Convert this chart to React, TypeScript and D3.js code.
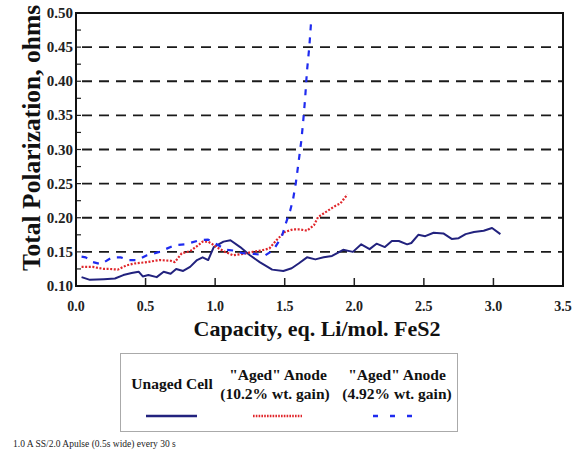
import { useEffect, useRef } from 'react'
import * as d3 from 'd3'

// Unaged cell (solid navy)
const unagedX = [0.04, 0.1, 0.2, 0.28, 0.34, 0.4, 0.45, 0.48, 0.52, 0.58, 0.63, 0.68, 0.72, 0.77, 0.82, 0.87, 0.91, 0.95, 0.99, 1.06, 1.11, 1.18, 1.25, 1.32, 1.41, 1.49, 1.55, 1.6, 1.66, 1.72, 1.78, 1.84, 1.92, 1.99, 2.05, 2.11, 2.16, 2.22, 2.27, 2.32, 2.38, 2.41, 2.46, 2.51, 2.57, 2.64, 2.7, 2.75, 2.8, 2.86, 2.93, 2.99, 3.05]
const unagedY = [0.113, 0.109, 0.11, 0.111, 0.116, 0.119, 0.121, 0.114, 0.116, 0.113, 0.121, 0.118, 0.125, 0.122, 0.128, 0.138, 0.142, 0.138, 0.157, 0.165, 0.167, 0.157, 0.145, 0.135, 0.124, 0.122, 0.126, 0.133, 0.142, 0.139, 0.142, 0.144, 0.153, 0.15, 0.161, 0.154, 0.162, 0.157, 0.166, 0.166, 0.161, 0.163, 0.175, 0.173, 0.178, 0.177, 0.169, 0.17, 0.176, 0.179, 0.181, 0.185, 0.176]

// "Aged" anode, 10.2% wt. gain (red dotted)
const aged10X = [0.04, 0.12, 0.2, 0.24, 0.3, 0.36, 0.42, 0.51, 0.6, 0.68, 0.71, 0.76, 0.82, 0.88, 0.91, 0.95, 0.99, 1.01, 1.07, 1.13, 1.2, 1.27, 1.33, 1.39, 1.44, 1.5, 1.56, 1.61, 1.66, 1.71, 1.74, 1.8, 1.86, 1.9, 1.95]
const aged10Y = [0.128, 0.128, 0.125, 0.125, 0.124, 0.13, 0.133, 0.135, 0.138, 0.137, 0.135, 0.148, 0.151, 0.16, 0.165, 0.165, 0.16, 0.157, 0.15, 0.145, 0.147, 0.15, 0.152, 0.155, 0.167, 0.179, 0.183, 0.183, 0.181, 0.189, 0.201, 0.209, 0.217, 0.221, 0.234]

// "Aged" anode, 4.92% wt. gain (blue dashed)
const aged4X = [0.04, 0.07, 0.12, 0.18, 0.26, 0.32, 0.38, 0.44, 0.51, 0.6, 0.71, 0.78, 0.89, 0.95, 1.02, 1.08, 1.13, 1.2, 1.28, 1.36, 1.42, 1.48, 1.51, 1.54, 1.56, 1.58, 1.605, 1.62, 1.634, 1.646, 1.66, 1.677, 1.69]
const aged4Y = [0.143, 0.142, 0.135, 0.132, 0.142, 0.142, 0.138, 0.138, 0.145, 0.15, 0.16, 0.161, 0.167, 0.168, 0.16, 0.153, 0.152, 0.148, 0.147, 0.145, 0.153, 0.173, 0.193, 0.211, 0.227, 0.251, 0.29, 0.314, 0.344, 0.373, 0.415, 0.451, 0.488]

const xTicks = [0, 0.5, 1, 1.5, 2, 2.5, 3, 3.5]
const yTicks = [0.1, 0.15, 0.2, 0.25, 0.3, 0.35, 0.4, 0.45, 0.5]
const gridValues = [0.15, 0.2, 0.25, 0.3, 0.35, 0.4, 0.45]

const serif = '"Liberation Serif", "Times New Roman", serif'

export default function App() {
  const svgRef = useRef<SVGSVGElement>(null)

  useEffect(() => {
    if (!svgRef.current) return
    const svg = d3.select(svgRef.current)
    svg.selectAll('*').remove()

    const left = 76
    const right = 563
    const top = 13
    const bottom = 286

    const x = d3.scaleLinear().domain([0, 3.5]).range([left, right])
    const y = d3.scaleLinear().domain([0.1, 0.5]).range([bottom, top])

    svg.append('rect').attr('width', 580).attr('height', 452).attr('fill', '#fff')

    // dashed grid
    svg
      .append('g')
      .selectAll('line')
      .data(gridValues)
      .join('line')
      .attr('x1', left + 6)
      .attr('x2', right)
      .attr('y1', d => y(d))
      .attr('y2', d => y(d))
      .attr('stroke', '#1a1a1a')
      .attr('stroke-width', 1.8)
      .attr('stroke-dasharray', '10,7')

    // minor y ticks (inside)
    svg
      .append('g')
      .selectAll('line')
      .data(d3.range(0.1, 0.5001, 0.025))
      .join('line')
      .attr('x1', left)
      .attr('x2', left + 5)
      .attr('y1', d => y(d))
      .attr('y2', d => y(d))
      .attr('stroke', '#222')
      .attr('stroke-width', 1.2)

    // x ticks (inside)
    svg
      .append('g')
      .selectAll('line')
      .data(xTicks.slice(1, -1))
      .join('line')
      .attr('x1', d => x(d))
      .attr('x2', d => x(d))
      .attr('y1', bottom)
      .attr('y2', bottom - 8)
      .attr('stroke', '#222')
      .attr('stroke-width', 1.5)

    // series
    const line = d3
      .line<[number, number]>()
      .x(d => x(d[0]))
      .y(d => y(d[1]))

    const series = [
      { xs: unagedX, ys: unagedY, color: '#22227e', width: 2, dash: null },
      { xs: aged10X, ys: aged10Y, color: '#e0262b', width: 2.2, dash: '2,1.6' },
      { xs: aged4X, ys: aged4Y, color: '#1f2bef', width: 2.2, dash: '6,7' },
    ]
    series.forEach(s => {
      const pts = s.xs.map((v, i) => [v, s.ys[i]] as [number, number])
      const p = svg
        .append('path')
        .datum(pts)
        .attr('fill', 'none')
        .attr('stroke', s.color)
        .attr('stroke-width', s.width)
        .attr('stroke-linejoin', 'round')
        .attr('d', line)
      if (s.dash) p.attr('stroke-dasharray', s.dash)
    })

    // frame
    svg
      .append('rect')
      .attr('x', left)
      .attr('y', top)
      .attr('width', right - left)
      .attr('height', bottom - top)
      .attr('fill', 'none')
      .attr('stroke', '#111')
      .attr('stroke-width', 2)

    // tick labels
    svg
      .append('g')
      .selectAll('text')
      .data(yTicks)
      .join('text')
      .attr('x', left - 3)
      .attr('y', d => y(d) + 5)
      .attr('text-anchor', 'end')
      .attr('font-family', serif)
      .attr('font-weight', 'bold')
      .attr('font-size', 15)
      .attr('fill', '#222')
      .text(d => d.toFixed(2))

    svg
      .append('g')
      .selectAll('text')
      .data(xTicks)
      .join('text')
      .attr('x', d => x(d))
      .attr('y', 311)
      .attr('text-anchor', 'middle')
      .attr('font-family', serif)
      .attr('font-weight', 'bold')
      .attr('font-size', 14)
      .attr('fill', '#222')
      .text(d => d.toFixed(1))

    // axis titles
    svg
      .append('text')
      .attr('x', 317)
      .attr('y', 336)
      .attr('text-anchor', 'middle')
      .attr('font-family', serif)
      .attr('font-weight', 'bold')
      .attr('font-size', 22)
      .attr('fill', '#111')
      .text('Capacity, eq. Li/mol. FeS2')

    svg
      .append('text')
      .attr('transform', 'translate(40,138) rotate(-90)')
      .attr('text-anchor', 'middle')
      .attr('font-family', serif)
      .attr('font-weight', 'bold')
      .attr('font-size', 25.5)
      .attr('fill', '#111')
      .text('Total Polarization, ohms')

    // legend
    const lg = svg.append('g')
    lg.append('rect')
      .attr('x', 120.5)
      .attr('y', 353.5)
      .attr('width', 337)
      .attr('height', 78)
      .attr('fill', 'none')
      .attr('stroke', '#555')
      .attr('stroke-width', 1)
      .attr('stroke-dasharray', '1,1')

    const legendText = (tx: number, ty: number, t: string) =>
      lg.append('text')
        .attr('x', tx)
        .attr('y', ty)
        .attr('text-anchor', 'middle')
        .attr('font-family', serif)
        .attr('font-weight', 'bold')
        .attr('font-size', 15.5)
        .attr('fill', '#111')
        .text(t)

    legendText(172, 388.5, 'Unaged Cell')
    legendText(278, 380, '"Aged" Anode')
    legendText(275, 398.5, '(10.2% wt. gain)')
    legendText(397, 380, '"Aged" Anode')
    legendText(397, 398.5, '(4.92% wt. gain)')

    const samples = [
      { x1: 146, x2: 197, s: series[0], dash: null },
      { x1: 253, x2: 302, s: series[1], dash: '1.6,1.2' },
      { x1: 373, x2: 414, s: series[2], dash: '5,12' },
    ]
    samples.forEach(({ x1, x2, s, dash }) => {
      const l = lg.append('line')
        .attr('x1', x1)
        .attr('x2', x2)
        .attr('y1', 416)
        .attr('y2', 416)
        .attr('stroke', s.color)
        .attr('stroke-width', 2.5)
      if (dash) l.attr('stroke-dasharray', dash)
    })

    // footnote
    svg
      .append('text')
      .attr('x', 13)
      .attr('y', 447)
      .attr('font-family', serif)
      .attr('font-size', 9.5)
      .attr('fill', '#222')
      .text('1.0 A SS/2.0 Apulse (0.5s wide) every 30 s')
  }, [])

  return (
    <svg
      ref={svgRef}
      width={580}
      height={452}
      style={{ position: 'absolute', left: 0, top: 0 }}
    />
  )
}
